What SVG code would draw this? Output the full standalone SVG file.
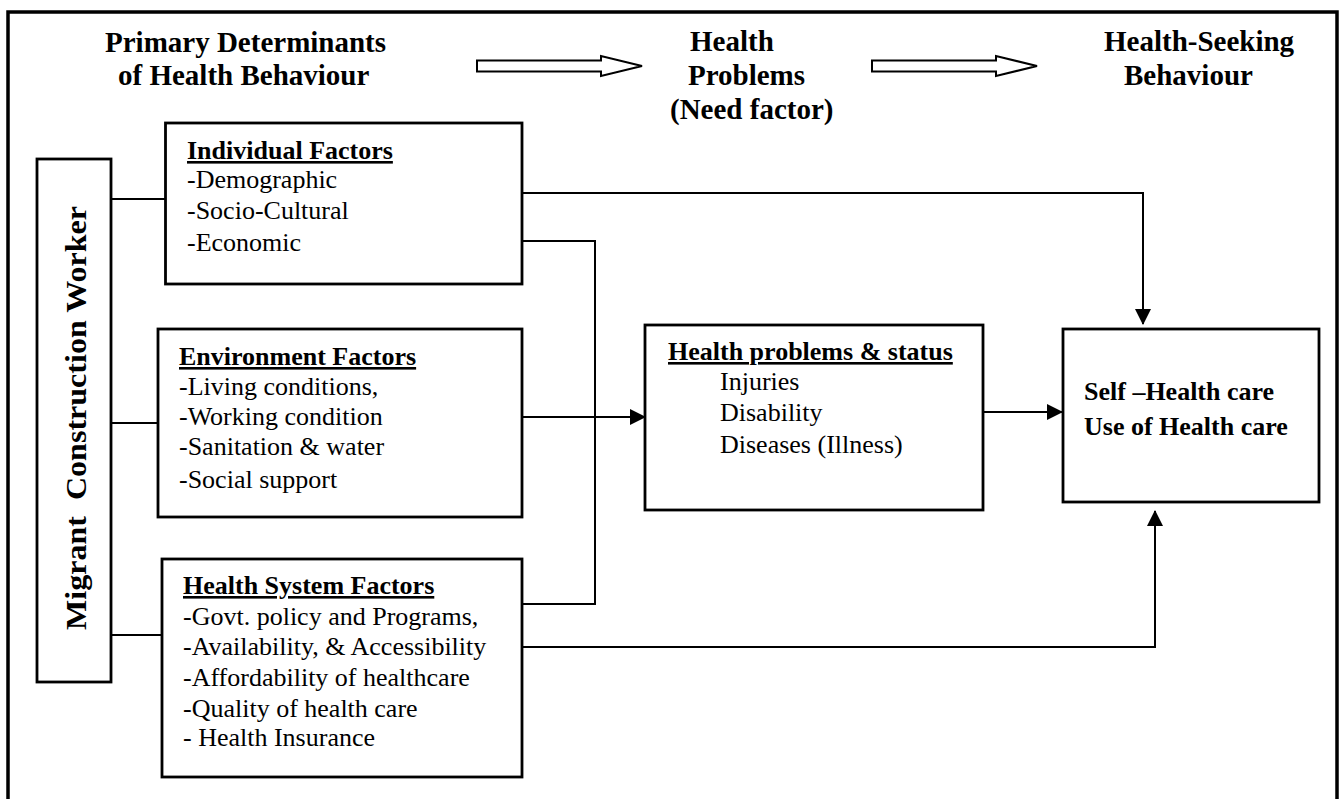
<svg xmlns="http://www.w3.org/2000/svg" width="1341" height="799" viewBox="0 0 1341 799">
<style>
.box{fill:#fff;stroke:#000;stroke-width:2.8}
.hdr{font-family:"Liberation Serif","Times New Roman",serif;font-weight:bold;font-size:29px;fill:#000}
.ttl{font-family:"Liberation Serif","Times New Roman",serif;font-weight:bold;font-size:26px;fill:#000;text-decoration:underline}
.txt{font-family:"Liberation Serif","Times New Roman",serif;font-size:26px;fill:#000}
.bld{font-family:"Liberation Serif","Times New Roman",serif;font-weight:bold;font-size:26px;fill:#000}
.con{fill:none;stroke:#000;stroke-width:2}
.blk{fill:#fff;stroke:#000;stroke-width:2}
</style>
<defs>
<marker id="ah" markerUnits="userSpaceOnUse" markerWidth="16" markerHeight="16" viewBox="0 0 16 16" refX="15" refY="8" orient="auto">
<path d="M0,0 L16,8 L0,16 z" fill="#000"/>
</marker>
</defs>
<rect x="0" y="0" width="1341" height="799" fill="#fff"/>
<rect x="8" y="12" width="1329" height="800" fill="none" stroke="#000" stroke-width="3.5"/>

<g id="headers">
<text class="hdr" x="105" y="52">Primary Determinants</text>
<text class="hdr" x="118" y="85">of Health Behaviour</text>
<text class="hdr" x="690" y="51">Health</text>
<text class="hdr" x="688" y="85">Problems</text>
<text class="hdr" x="670" y="119">(Need factor)</text>
<text class="hdr" x="1104" y="51">Health-Seeking</text>
<text class="hdr" x="1124" y="85">Behaviour</text>
<polygon class="blk" points="477,60.5 601,60.5 601,56 642,66 601,76 601,71.5 477,71.5"/>
<polygon class="blk" points="872,60.5 996,60.5 996,56 1037,66 996,76 996,71.5 872,71.5"/>
</g>

<g id="connectors">
<line class="con" x1="111" y1="199" x2="165" y2="199"/>
<line class="con" x1="111" y1="423" x2="158" y2="423"/>
<line class="con" x1="111" y1="635" x2="162" y2="635"/>
<polyline class="con" points="522,193 1143,193 1143,324" marker-end="url(#ah)"/>
<polyline class="con" points="522,241 595,241 595,604 522,604"/>
<line class="con" x1="522" y1="417" x2="645" y2="417" marker-end="url(#ah)"/>
<line class="con" x1="983" y1="412" x2="1062" y2="412" stroke-width="3" marker-end="url(#ah)"/>
<polyline class="con" points="522,647 1155,647 1155,511" marker-end="url(#ah)"/>
</g>

<g id="migrant">
<rect class="box" x="37" y="159" width="74" height="523"/>
<text class="hdr" font-size="31" transform="translate(86,630) rotate(-90)" textLength="424" lengthAdjust="spacingAndGlyphs">Migrant&#160; Construction Worker</text>
</g>

<g id="individual">
<rect class="box" x="165.5" y="123" width="356.5" height="161"/>
<text class="ttl" x="187" y="159">Individual Factors</text>
<text class="txt" x="187" y="188">-Demographic</text>
<text class="txt" x="187" y="219">-Socio-Cultural</text>
<text class="txt" x="187" y="251">-Economic</text>
</g>

<g id="environment">
<rect class="box" x="158" y="329" width="364" height="188"/>
<text class="ttl" x="179" y="365">Environment Factors</text>
<text class="txt" x="179" y="395">-Living conditions,</text>
<text class="txt" x="179" y="425">-Working condition</text>
<text class="txt" x="179" y="455">-Sanitation &amp; water</text>
<text class="txt" x="179" y="488">-Social support</text>
</g>

<g id="healthsystem">
<rect class="box" x="162" y="559" width="360" height="218"/>
<text class="ttl" x="183" y="594">Health System Factors</text>
<text class="txt" x="183" y="625">-Govt. policy and Programs,</text>
<text class="txt" x="183" y="655">-Availability, &amp; Accessibility</text>
<text class="txt" x="183" y="686">-Affordability of healthcare</text>
<text class="txt" x="183" y="717">-Quality of health care</text>
<text class="txt" x="183" y="746">- Health Insurance</text>
</g>

<g id="healthproblems">
<rect class="box" x="645" y="325" width="338" height="185"/>
<text class="ttl" x="668" y="360">Health problems &amp; status</text>
<text class="txt" x="720" y="390">Injuries</text>
<text class="txt" x="720" y="421">Disability</text>
<text class="txt" x="720" y="453">Diseases (Illness)</text>
</g>

<g id="selfcare">
<rect class="box" x="1063" y="329" width="256" height="173"/>
<text class="bld" x="1084" y="400">Self –Health care</text>
<text class="bld" x="1084" y="435">Use of Health care</text>
</g>
</svg>
